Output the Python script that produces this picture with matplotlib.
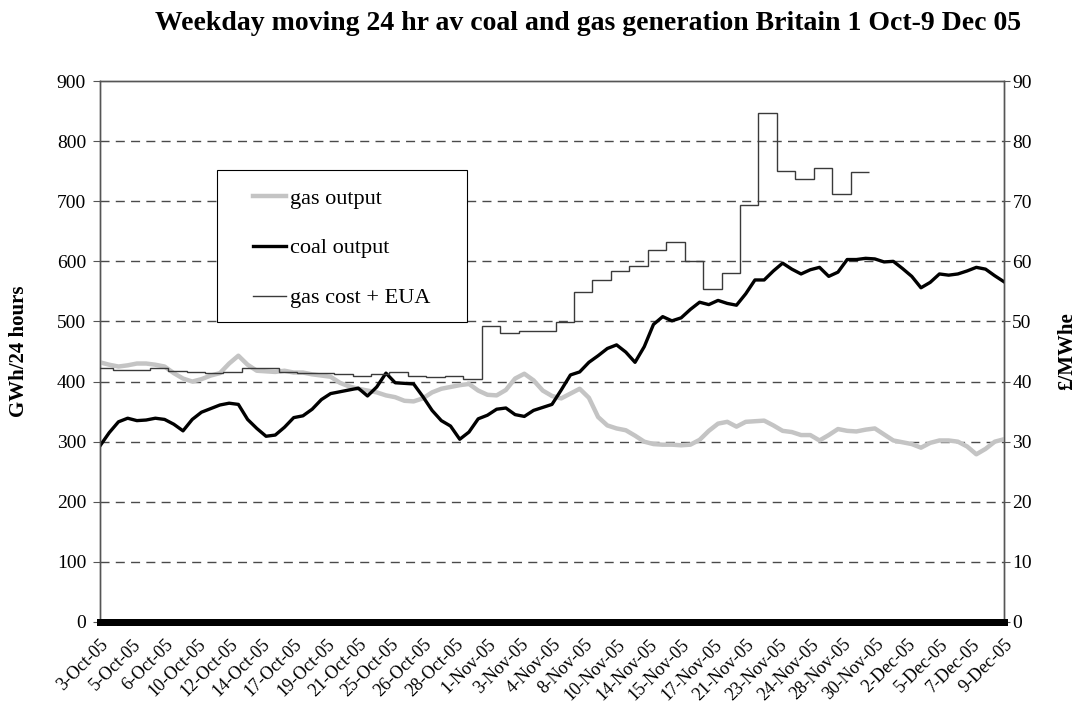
import matplotlib
matplotlib.use('Agg')
import matplotlib.pyplot as plt
import matplotlib.transforms as mtrans
from matplotlib.lines import Line2D
from matplotlib.patches import Rectangle
import numpy as np

plt.rcParams['font.family'] = ['Liberation Serif', 'DejaVu Serif']

# ---------------- data ----------------
tick_labels = ['3-Oct-05', '5-Oct-05', '6-Oct-05', '10-Oct-05', '12-Oct-05', '14-Oct-05',
               '17-Oct-05', '19-Oct-05', '21-Oct-05', '25-Oct-05', '26-Oct-05', '28-Oct-05',
               '1-Nov-05', '3-Nov-05', '4-Nov-05', '8-Nov-05', '10-Nov-05', '14-Nov-05',
               '15-Nov-05', '17-Nov-05', '21-Nov-05', '23-Nov-05', '24-Nov-05', '28-Nov-05',
               '30-Nov-05', '2-Dec-05', '5-Dec-05', '7-Dec-05', '9-Dec-05']
label_spacing_days = 1.75       # weekdays between successive category labels
sample_step_days = 0.5          # sampling of the moving averages below

# GWh/24 hours, weekday index sampled every half day
coal_output = [293, 315, 333, 339, 335, 336, 339, 337, 329, 318,
               337, 349, 355, 361, 364, 362, 337, 322, 309, 311,
               324, 340, 343, 354, 370, 380, 383, 386, 389, 376,
               391, 414, 398, 397, 396, 375, 352, 335, 326, 304,
               316, 338, 344, 354, 356, 345, 342, 352, 357, 362,
               386, 411, 416, 432, 443, 455, 461, 449, 432, 458,
               495, 508, 501, 506, 520, 532, 528, 535, 530, 527,
               546, 569, 569, 584, 597, 587, 579, 586, 590, 575,
               582, 603, 603, 605, 604, 599, 600, 588, 575, 556,
               565, 579, 577, 579, 584, 590, 587, 576, 566]

gas_output = [432, 428, 425, 427, 430, 430, 428, 425, 414, 405,
              400, 404, 410, 414, 430, 443, 428, 418, 417, 416,
              418, 415, 415, 412, 410, 408, 398, 392, 388, 385,
              382, 377, 374, 368, 367, 372, 382, 388, 391, 394,
              396, 385, 378, 377, 386, 405, 413, 402, 385, 376,
              372, 380, 388, 373, 341, 327, 322, 319, 310, 300,
              296, 295, 295, 294, 295, 303, 318, 330, 333, 325,
              333, 334, 335, 327, 318, 316, 311, 311, 302, 311,
              321, 318, 317, 320, 322, 312, 302, 299, 296, 290,
              298, 302, 302, 300, 292, 279, 288, 300, 304]

# gas cost + EUA, GBP/MWhe, one value per weekday
gas_cost_eua = [42.3, 42.0, 42.0, 42.2, 41.8, 41.6, 41.4, 41.6, 42.2, 42.2,
                41.6, 41.5, 41.5, 41.2, 41.0, 41.3, 41.6, 41.0, 40.7, 40.9,
                40.5, 49.2, 48.1, 48.4, 48.4, 49.9, 54.9, 56.9, 58.4, 59.3,
                61.9, 63.2, 60.0, 55.4, 58.0, 69.4, 84.7, 75.0, 73.7, 75.5,
                71.2, 74.8]
price_first_day = -0.31

# ---------------- figure ----------------
W, H = 1075, 713
fig = plt.figure(figsize=(W/100, H/100), dpi=100)
ax = fig.add_axes([100/W, 1-622/H, 904/W, 541/H])
ax2 = ax.twinx()

days = np.arange(len(coal_output)) * sample_step_days
label_pos = np.arange(len(tick_labels)) * label_spacing_days
price_edges = price_first_day + np.arange(len(gas_cost_eua) + 1)

ax.plot(days, gas_output, color='#c4c4c4', lw=3.2, zorder=3)
ax.plot(days, coal_output, color='black', lw=2.4, zorder=4)
ax2.stairs(gas_cost_eua, price_edges, baseline=None, color='#3a3a3a', lw=1.0, zorder=3)

ax.set_xlim(0, 49.0)
ax.set_ylim(0, 900)
ax2.set_ylim(0, 90)

ax.set_yticks(np.arange(0, 901, 100))
ax2.set_yticks(np.arange(0, 91, 10))
ax.set_xticks(label_pos)
ax.set_xticklabels(tick_labels, rotation=45, ha='right', va='top', rotation_mode='anchor')
offset = mtrans.ScaledTranslation(-13/100, 8/100, fig.dpi_scale_trans)
for lab in ax.get_xticklabels():
    lab.set_transform(lab.get_transform() + offset)

for y in range(100, 900, 100):
    ax.axhline(y, color='#4a4a4a', lw=1.0, ls=(0, (6.5, 4.5)), zorder=1)

ax.tick_params(axis='y', labelsize=14, length=5, color='#555555', direction='out', pad=5)
ax2.tick_params(axis='y', labelsize=14, length=4, color='#555555', direction='out', pad=2)
ax.tick_params(axis='x', labelsize=13, length=0, pad=10)

for a in (ax, ax2):
    for s in ('left', 'right', 'top'):
        a.spines[s].set_color('#555555')
        a.spines[s].set_linewidth(1.0)
    a.spines['bottom'].set_color('black')
    a.spines['bottom'].set_linewidth(5)

ax.set_ylabel('GWh/24 hours', fontsize=15, fontweight='bold')
ax.yaxis.set_label_coords((29-100)/904, 0.5)
ax2.set_ylabel('£/MWhe', fontsize=15, fontweight='bold')
ax2.yaxis.set_label_coords((1057-100)/904, 0.5)

fig.text(588/W, 1-23/H, 'Weekday moving 24 hr av coal and gas generation Britain 1 Oct-9 Dec 05',
         ha='center', va='center', fontsize=20, fontweight='bold')

# legend box
ax2.add_patch(Rectangle(((217-100)/904, (622-322)/541), 250/904, 152/541,
                        transform=ax2.transAxes, facecolor='white',
                        edgecolor='black', lw=0.8, zorder=5))
h_gas = Line2D([], [], color='#c4c4c4', lw=3.2)
h_coal = Line2D([], [], color='black', lw=2.4)
h_price = Line2D([], [], color='#3a3a3a', lw=1.0)
leg = ax2.legend([h_gas, h_coal, h_price], ['gas output', 'coal output', 'gas cost + EUA'],
                 loc='upper left', bbox_to_anchor=((253-100)/904, (622-188)/541),
                 frameon=False, fontsize=16, handlelength=1.5, handletextpad=0.15,
                 labelspacing=1.32, borderpad=0, borderaxespad=0)
leg.set_zorder(6)

fig.savefig('out.png', dpi=100)
